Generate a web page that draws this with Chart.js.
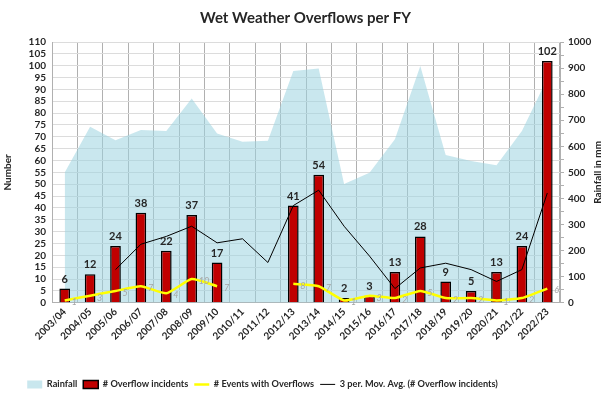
<!DOCTYPE html>
<html>
<head>
<meta charset="utf-8">
<script src="https://cdn.jsdelivr.net/npm/chart.js@4.4.1/dist/chart.umd.min.js"></script>
<style>
  html, body { margin: 0; padding: 0; background: #fff; }
  #wrap { width: 611px; height: 399px; }
</style>
</head>
<body>
<div id="wrap"><canvas id="overflowChart" width="611" height="399"></canvas></div>
<script>
  // data
  var years = ['2003/04', '2004/05', '2005/06', '2006/07', '2007/08', '2008/09', '2009/10', '2010/11', '2011/12', '2012/13',
               '2013/14', '2014/15', '2015/16', '2016/17', '2017/18', '2018/19', '2019/20', '2020/21', '2021/22', '2022/23'];
  var rainfall = [500, 675, 623, 663, 659, 783, 649, 618, 621, 889, 898, 456, 499, 627, 908, 567, 544, 527, 659, 860];
  var overflowIncidents = [6, 12, 24, 38, 22, 37, 17, null, null, 41, 54, 2, 3, 13, 28, 9, 5, 13, 24, 102];
  var eventsWithOverflows = [1, 3, 5, 7, 4, 10, 7, null, null, 8, 7, 1, 3, 2, 5, 2, 2, 1, 2, 6];
  var movingAvg = [null, null, 14, 24.7, 28, 32.3, 25.3, 27, 17, 41, 47.5, 32.3, 19.7, 6, 14.7, 16.7, 14, 9, 14, 46.3];

  var fontFamily = 'Lato, "Open Sans", sans-serif';
  var textColor = '#262626';

  // value labels: bold above bars, small grey italics beside the yellow line
  var valueLabels = {
    id: 'valueLabels',
    afterDatasetsDraw: function (chart) {
      var ctx = chart.ctx;
      ctx.save();
      var barMeta = chart.getDatasetMeta(1);
      ctx.font = 'bold 11px ' + fontFamily;
      ctx.fillStyle = textColor;
      ctx.textAlign = 'center';
      ctx.textBaseline = 'bottom';
      barMeta.data.forEach(function (bar, i) {
        if (overflowIncidents[i] == null) return;
        ctx.fillText(overflowIncidents[i], bar.x, bar.y - 4);
      });
      var lineMeta = chart.getDatasetMeta(2);
      ctx.font = 'italic 9px ' + fontFamily;
      ctx.fillStyle = '#a6a6a6';
      ctx.textAlign = 'left';
      ctx.textBaseline = 'middle';
      lineMeta.data.forEach(function (pt, i) {
        if (eventsWithOverflows[i] == null) return;
        ctx.fillText(eventsWithOverflows[i], pt.x + 7, pt.y + 2);
      });
      ctx.restore();
    }
  };

  // right axis title reads bottom-to-top like the left one,
  // and the legend sits a bit left of centre as in the original
  var layoutTweaks = {
    id: 'layoutTweaks',
    afterLayout: function (chart) {
      if (chart.legend) {
        chart.legend.left -= 43;
        chart.legend.right -= 43;
      }
    },
    afterDraw: function (chart) {
      var ctx = chart.ctx;
      var area = chart.chartArea;
      ctx.save();
      ctx.translate(598, (area.top + area.bottom) / 2);
      ctx.rotate(-Math.PI / 2);
      ctx.font = 'bold 10px ' + fontFamily;
      ctx.fillStyle = textColor;
      ctx.textAlign = 'center';
      ctx.textBaseline = 'middle';
      ctx.fillText('Rainfall in mm', 0, 0);
      ctx.restore();
    }
  };

  var ctx = document.getElementById('overflowChart').getContext('2d');
  new Chart(ctx, {
    data: {
      labels: years,
      datasets: [{
        type: 'line',
        label: 'Rainfall',
        data: rainfall,
        yAxisID: 'y1',
        fill: 'origin',
        backgroundColor: 'rgba(157, 212, 224, 0.55)',
        borderWidth: 0,
        borderColor: 'rgba(0,0,0,0)',
        pointRadius: 0,
        pointStyle: 'rect',
        order: 4
      }, {
        type: 'bar',
        label: '# Overflow incidents',
        data: overflowIncidents,
        yAxisID: 'y',
        backgroundColor: '#c00000',
        borderColor: '#000',
        borderWidth: 1.5,
        categoryPercentage: 0.84,
        barPercentage: 0.5,
        pointStyle: 'rect',
        order: 3
      }, {
        type: 'line',
        label: '# Events with Overflows',
        data: eventsWithOverflows,
        yAxisID: 'y',
        borderColor: '#ffff00',
        backgroundColor: '#ffff00',
        borderWidth: 2.5,
        tension: 0.15,
        pointRadius: 0,
        pointStyle: 'line',
        spanGaps: false,
        order: 2
      }, {
        type: 'line',
        label: '3 per. Mov. Avg. (# Overflow incidents)',
        data: movingAvg,
        yAxisID: 'y',
        borderColor: '#000',
        backgroundColor: '#000',
        borderWidth: 1,
        pointRadius: 0,
        pointStyle: 'line',
        order: 1
      }]
    },
    options: {
      responsive: false,
      animation: false,
      layout: { padding: { top: 0, bottom: 0, left: 0, right: 0 } },
      plugins: {
        title: {
          display: true,
          text: 'Wet Weather Overflows per FY',
          color: textColor,
          font: { family: fontFamily, size: 15, weight: 'bold' },
          padding: { top: 9, bottom: 15 }
        },
        legend: {
          position: 'bottom',
          align: 'center',
          labels: {
            usePointStyle: true,
            pointStyleWidth: 15,
            boxHeight: 8,
            padding: 6,
            color: textColor,
            font: { family: fontFamily, size: 9.2, weight: 'bold' },
            sort: function (a, b) { return a.datasetIndex - b.datasetIndex; }
          }
        },
        tooltip: { enabled: false }
      },
      scales: {
        x: {
          offset: true,
          grid: { offset: true, color: '#b0b0b0', drawTicks: false },
          border: { color: '#b0b0b0' },
          ticks: {
            color: textColor,
            minRotation: 45,
            maxRotation: 45,
            padding: 3,
            font: { family: fontFamily, size: 10, weight: 'bold' }
          },
          afterFit: function (s) { s.height = 71; }
        },
        y: {
          position: 'left',
          min: 0,
          max: 110,
          ticks: {
            stepSize: 5,
            autoSkip: false,
            color: textColor,
            padding: 6,
            font: { family: fontFamily, size: 10, weight: 'bold' }
          },
          grid: { color: '#dcdcdc', drawTicks: false },
          border: { color: '#b0b0b0' },
          title: {
            display: true,
            text: 'Number',
            color: textColor,
            padding: 2,
            font: { family: fontFamily, size: 10, weight: 'bold' }
          },
          afterFit: function (s) { s.width = 52; }
        },
        y1: {
          position: 'right',
          min: 0,
          max: 1000,
          ticks: {
            stepSize: 50,
            autoSkip: false,
            color: textColor,
            padding: 4,
            font: { family: fontFamily, size: 10, weight: 'bold' },
            callback: function (v) { return v % 100 === 0 ? v : ''; }
          },
          grid: { drawOnChartArea: false, color: '#b0b0b0', tickLength: 4 },
          border: { color: '#b0b0b0' },
          afterFit: function (s) { s.width = 51; }
        }
      }
    },
    plugins: [valueLabels, layoutTweaks]
  });
</script>
</body>
</html>
